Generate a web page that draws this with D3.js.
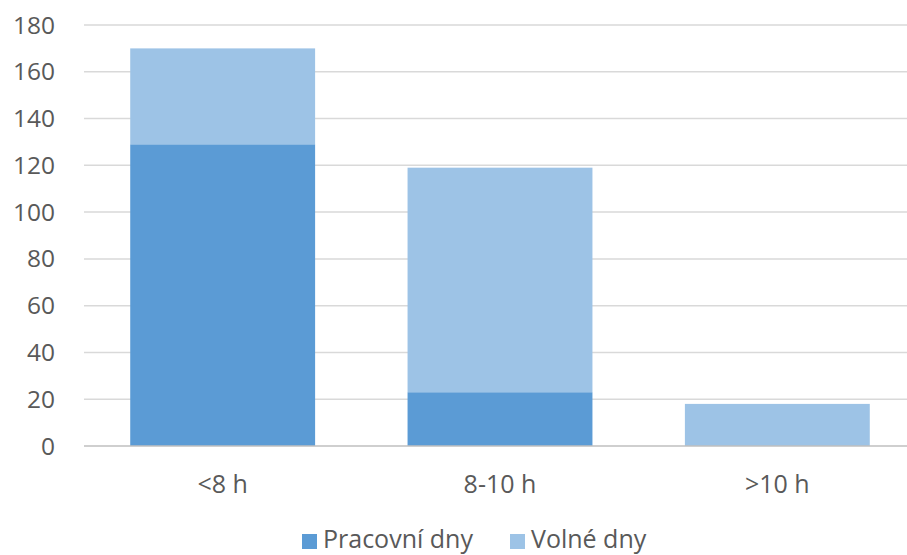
<!DOCTYPE html>
<html><head><meta charset="utf-8">
<script src="https://cdn.jsdelivr.net/npm/d3@7/dist/d3.min.js"></script>
<style>body{margin:0;background:#fff}svg{display:block}text{font-family:"Open Sans",sans-serif;fill:#595959}</style>
</head><body><svg id="c" width="907" height="555"></svg>
<script>
const categories = ["<8 h", "8-10 h", ">10 h"];
const seriesNames = ["Pracovní dny", "Volné dny"];
const pracovni = [129, 23, 0];
const volne = [41, 96, 18];
const yTicks = [0, 20, 40, 60, 80, 100, 120, 140, 160, 180];
const colors = ["#5B9BD5", "#9DC3E6"];

const svg = d3.select("#c");
const x = d3.scaleBand().domain(categories).range([84, 916]).paddingInner(1/3).paddingOuter(1/6);
const y = d3.scaleLinear().domain([0, 180]).range([446, 25]);

// gridlines
svg.append("g").selectAll("line").data(yTicks.filter(d => d > 0)).join("line")
  .attr("x1", 84).attr("x2", 907).attr("y1", d => y(d)).attr("y2", d => y(d))
  .attr("stroke", "#D9D9D9").attr("stroke-width", 1.5);

// y labels
svg.append("g").selectAll("text").data(yTicks).join("text")
  .attr("x", 55).attr("y", d => y(d)).attr("text-anchor", "end").attr("dy", "0.35em")
  .attr("font-size", 24.5).text(d => d);

const rows = categories.map((c, i) => ({c, v: [pracovni[i], volne[i]]}));
const stack = d3.stack().keys([0, 1]).value((d, k) => d.v[k])(rows);
svg.append("g").selectAll("g").data(stack).join("g").attr("fill", (d, i) => colors[i])
  .selectAll("rect").data(d => d).join("rect")
  .attr("x", d => x(d.data.c)).attr("width", x.bandwidth())
  .attr("y", d => y(d[1])).attr("height", d => y(d[0]) - y(d[1]));

// axis line
svg.append("line").attr("x1", 84).attr("x2", 907).attr("y1", y(0)).attr("y2", y(0))
  .attr("stroke", "#BFBFBF").attr("stroke-width", 1.5);

// category labels
svg.append("g").selectAll("text").data(categories).join("text")
  .attr("x", d => x(d) + x.bandwidth() / 2).attr("y", 493).attr("text-anchor", "middle")
  .attr("font-size", 25).text(d => d);

// legend
const leg = [{n: seriesNames[0], x: 302}, {n: seriesNames[1], x: 510}];
const lg = svg.append("g").selectAll("g").data(leg).join("g");
lg.append("rect").attr("x", d => d.x).attr("y", 534).attr("width", 15).attr("height", 15)
  .attr("fill", (d, i) => colors[i]);
lg.append("text").attr("x", d => d.x + 21).attr("y", 548).attr("font-size", 25).text(d => d.n);
</script></body></html>
